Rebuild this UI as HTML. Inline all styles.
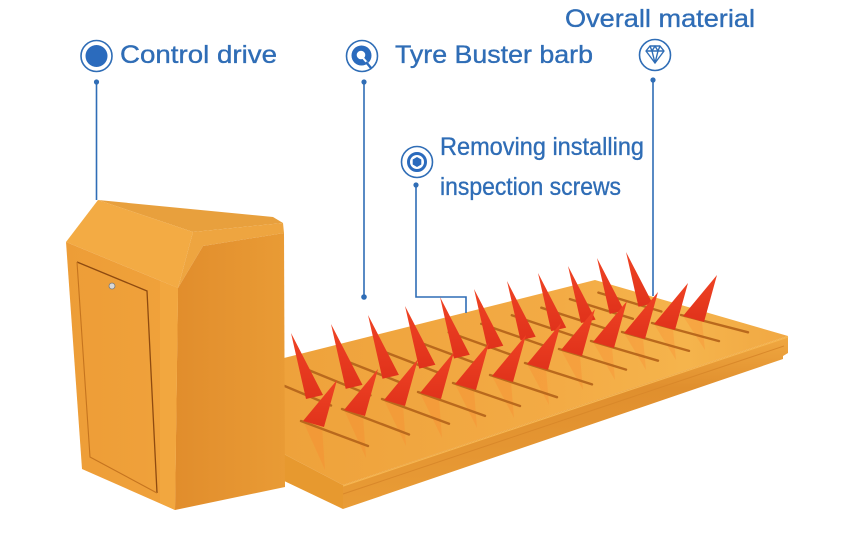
<!DOCTYPE html>
<html>
<head>
<meta charset="utf-8">
<style>
  html,body{margin:0;padding:0;background:#ffffff;}
  body{width:850px;height:550px;overflow:hidden;}
  svg{display:block;}
  text{font-family:"Liberation Sans",Arial,sans-serif;fill:#2f6db6;stroke:#2f6db6;stroke-width:0.35;}
</style>
</head>
<body>
<svg width="850" height="550" viewBox="0 0 850 550" xmlns="http://www.w3.org/2000/svg">
  <defs>
    <linearGradient id="rampTop" x1="0" y1="0" x2="1" y2="0">
      <stop offset="0" stop-color="#eea23b"/>
      <stop offset="0.55" stop-color="#f3ab45"/>
      <stop offset="0.8" stop-color="#f5b44c"/>
      <stop offset="1" stop-color="#f1a843"/>
    </linearGradient>
    <linearGradient id="band" x1="0" y1="0" x2="0" y2="1">
      <stop offset="0" stop-color="#f0a841"/>
      <stop offset="0.3" stop-color="#e08f2e"/>
      <stop offset="1" stop-color="#e99c36"/>
    </linearGradient>
    <linearGradient id="spk" x1="0" y1="0" x2="0" y2="1">
      <stop offset="0" stop-color="#ef4324"/>
      <stop offset="1" stop-color="#e0321b"/>
    </linearGradient>
    <linearGradient id="rface" x1="0" y1="0" x2="1" y2="0">
      <stop offset="0" stop-color="#e18d2c"/>
      <stop offset="1" stop-color="#e99b35"/>
    </linearGradient>
    <linearGradient id="dface" x1="0" y1="0" x2="1" y2="0">
      <stop offset="0" stop-color="#ed9d37"/>
      <stop offset="1" stop-color="#f0a23b"/>
    </linearGradient>
  </defs>

  <!-- ===== RAMP ===== -->
  <polygon points="280,359 595,280 788,336 343,485 280,452" fill="url(#rampTop)"/>
  <polygon points="343,485 788,336 788,353 783,356 783,359 343,509" fill="url(#band)"/>
  <line x1="343" y1="486" x2="788" y2="337" stroke="#f6b650" stroke-width="1.2"/>
  <line x1="343" y1="494" x2="784" y2="346" stroke="#d9882a" stroke-width="1"/>
  <polygon points="280,452 343,485 343,509 280,479" fill="#e7992f"/>

  <!-- reflections -->
  <g fill="#ff7a26" opacity="0.22">
    <polygon points="303,421 322,426 325,470"/>
    <polygon points="344,410 363,415 366,458"/>
    <polygon points="384,400 403,405 406,446"/>
    <polygon points="420,393 439,398 442,438"/>
    <polygon points="455,384 474,389 477,428"/>
    <polygon points="492,376 511,381 514,418"/>
    <polygon points="527,364 546,369 549,405"/>
    <polygon points="561,350 580,355 583,390"/>
    <polygon points="593,342 612,347 615,380"/>
    <polygon points="624,333 643,338 646,370"/>
    <polygon points="654,324 673,329 676,360"/>
    <polygon points="683,316 702,321 705,350"/>
  </g>

  <!-- slots (back) -->
  <g stroke="#b9691d" stroke-width="2.4" stroke-linecap="round">
    <line x1="268" y1="379" x2="331" y2="405.5"/>
    <line x1="307.5" y1="369.6" x2="370.5" y2="395.3"/>
    <line x1="344" y1="360.2" x2="407" y2="385.1"/>
    <line x1="380.6" y1="350.4" x2="443.6" y2="374.6"/>
    <line x1="415.2" y1="340.8" x2="478.2" y2="364.2"/>
    <line x1="448.7" y1="332.3" x2="511.7" y2="355"/>
    <line x1="481.2" y1="323.8" x2="544.2" y2="345.7"/>
    <line x1="511.8" y1="315.2" x2="574.8" y2="336.4"/>
    <line x1="541.3" y1="307.7" x2="604.3" y2="328.1"/>
    <line x1="569.9" y1="299.1" x2="632.9" y2="318.8"/>
    <line x1="598.4" y1="292.6" x2="661.4" y2="311.5"/>
  </g>
  <!-- slots (front) -->
  <g stroke="#b9691d" stroke-width="2.4" stroke-linecap="round">
    <line x1="301" y1="421" x2="368" y2="446"/>
    <line x1="342" y1="409" x2="409" y2="434.5"/>
    <line x1="382" y1="399" x2="449" y2="423.7"/>
    <line x1="418" y1="392" x2="485" y2="415.9"/>
    <line x1="453" y1="383" x2="520" y2="406"/>
    <line x1="490" y1="375" x2="557" y2="397.2"/>
    <line x1="525" y1="363" x2="592" y2="384.4"/>
    <line x1="559" y1="349" x2="626" y2="369.6"/>
    <line x1="591" y1="341" x2="658" y2="360.7"/>
    <line x1="622" y1="332" x2="689" y2="350.9"/>
    <line x1="652" y1="323" x2="719" y2="341.1"/>
    <line x1="681" y1="315" x2="748" y2="332.3"/>
  </g>

  <!-- leader lines onto ramp (under spikes) -->
  <g stroke="#2f6db6" stroke-width="1.6" fill="none">
    <line x1="653" y1="80" x2="653" y2="296"/>
    <polyline points="416,185 416,297 466,297 466,313"/>
  </g>

  <!-- back spikes -->
  <g fill="url(#spk)">
    <polygon points="291,333 306,399 323,395"/>
    <polygon points="331,324 345.7,388.9 362.5,384.9"/>
    <polygon points="368,315 382.5,378.8 398.9,374.9"/>
    <polygon points="405,306 419.2,368.6 435.4,364.8"/>
    <polygon points="440,297 454,358.5 469.8,354.8"/>
    <polygon points="474,289 487.7,349.4 503.3,345.7"/>
    <polygon points="507,281 520.5,340.3 535.7,336.7"/>
    <polygon points="538,273 551.2,331.1 566.2,327.6"/>
    <polygon points="568,266 581,323 595.6,319.6"/>
    <polygon points="597,258 609.7,313.9 624.1,310.5"/>
    <polygon points="626,252 638.5,306.8 652.6,303.5"/>
  </g>
  <!-- front spikes -->
  <g fill="url(#spk)">
    <polygon points="337,380 303,421 324,427"/>
    <polygon points="378,369 344,410 365,416"/>
    <polygon points="418,359 384,400 405,406"/>
    <polygon points="454,352 420,393 441,399"/>
    <polygon points="489,343 455,384 476,390"/>
    <polygon points="526,335 492,376 513,382"/>
    <polygon points="561,323 527,364 548,370"/>
    <polygon points="595,309 561,350 582,356"/>
    <polygon points="627,301 593,342 614,348"/>
    <polygon points="658,292 624,333 645,339"/>
    <polygon points="688,283 654,324 675,330"/>
    <polygon points="717,275 683,316 704,322"/>
  </g>

  <!-- ===== BOX ===== -->
  <polygon points="98,200 273,217 283,223 193,232" fill="#e8a03d"/>
  <polygon points="98,200 193,232 178,288 66,242" fill="#f3ab44"/>
  <polygon points="193,232 283,223 284,233 203,246 178,288" fill="#eea540"/>
  <polygon points="203,246 284,233 285,487 175,510 178,288" fill="url(#rface)"/>
  <polygon points="66,242 178,288 175,510 82,469" fill="url(#dface)"/>
  <polygon points="160,281 178,288 175,510 160,503" fill="#f2a73f"/>
  <polyline points="77,262 147,291 157,493" fill="none" stroke="#8e4a10" stroke-width="1.3"/>
  <polyline points="157,493 90,457 77,262" fill="none" stroke="#c5741f" stroke-width="1.1"/>
  <circle cx="112" cy="286" r="3" fill="#d8d8d8" stroke="#7a7a7a" stroke-width="0.8"/>

  <!-- ===== LEADERS ===== -->
  <g stroke="#2f6db6" stroke-width="1.6" fill="none">
    <line x1="96.5" y1="82" x2="96.5" y2="200"/>
    <line x1="364" y1="82" x2="364" y2="297"/>
  </g>
  <g fill="#2f6db6">
    <circle cx="96.5" cy="82" r="2.6"/>
    <circle cx="364" cy="82" r="2.6"/>
    <circle cx="364" cy="297" r="2.8"/>
    <circle cx="653" cy="80" r="2.6"/>
    <circle cx="416" cy="185" r="2.6"/>
  </g>

  <!-- ===== ICONS ===== -->
  <circle cx="96.5" cy="56" r="15.5" fill="none" stroke="#2f6db6" stroke-width="1.6"/>
  <circle cx="96.5" cy="56" r="11" fill="#2b6bbd"/>

  <circle cx="362" cy="56" r="15.5" fill="none" stroke="#2f6db6" stroke-width="1.6"/>
  <circle cx="361.5" cy="55.5" r="10" fill="#2b6bbd"/>
  <circle cx="361" cy="55" r="4.3" fill="#ffffff"/>
  <line x1="363" y1="58" x2="370" y2="66" stroke="#ffffff" stroke-width="2"/>
  <line x1="366" y1="62" x2="371" y2="68" stroke="#2b6bbd" stroke-width="2.5"/>

  <circle cx="655" cy="55" r="15.5" fill="none" stroke="#2f6db6" stroke-width="1.6"/>
  <g fill="none" stroke="#2f6db6" stroke-width="1.4" stroke-linejoin="round">
    <polygon points="646,51 650,46 660,46 664,51 655,63"/>
    <line x1="646" y1="51" x2="664" y2="51"/>
    <polyline points="650,46 652,51 655,63 658,51 660,46"/>
    <polyline points="652,51 655,46 658,51"/>
  </g>

  <circle cx="417" cy="162" r="15.5" fill="none" stroke="#2f6db6" stroke-width="1.6"/>
  <circle cx="417" cy="162" r="8.5" fill="none" stroke="#2b6bbd" stroke-width="3"/>
  <polygon points="417,157 421.3,159.5 421.3,164.5 417,167 412.7,164.5 412.7,159.5" fill="#2b6bbd"/>

  <!-- ===== LABELS ===== -->
  <text x="120" y="63" font-size="25" textLength="157" lengthAdjust="spacingAndGlyphs">Control drive</text>
  <text x="395" y="63" font-size="25" textLength="198" lengthAdjust="spacingAndGlyphs">Tyre Buster barb</text>
  <text x="565" y="27" font-size="25" textLength="190" lengthAdjust="spacingAndGlyphs">Overall material</text>
  <text x="440" y="155" font-size="25" textLength="204" lengthAdjust="spacingAndGlyphs">Removing installing</text>
  <text x="440" y="195" font-size="25" textLength="181" lengthAdjust="spacingAndGlyphs">inspection screws</text>
</svg>
</body>
</html>
